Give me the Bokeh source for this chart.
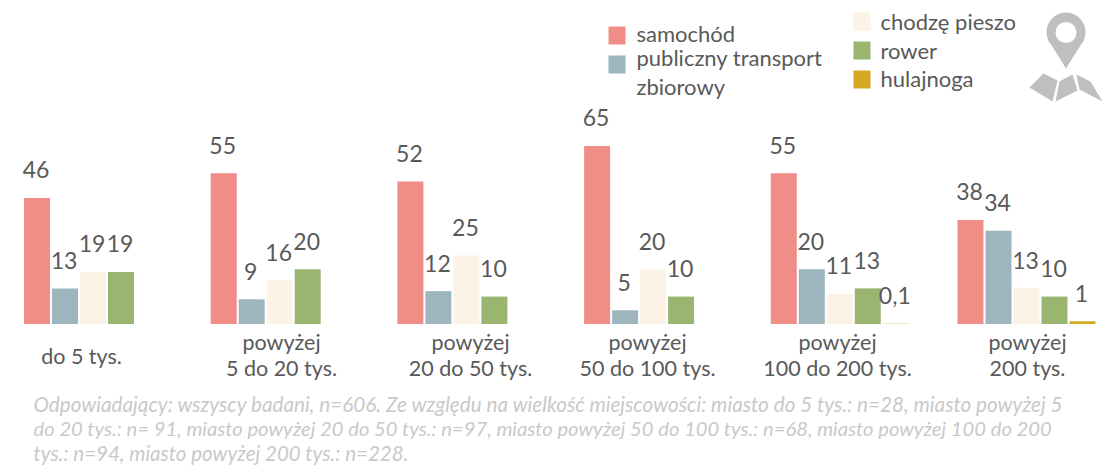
from bokeh.plotting import figure
from bokeh.models import ColumnDataSource, Range1d
from bokeh.core.properties import value
from bokeh.embed import file_html
from bokeh.resources import INLINE

labels_top = ["", "powyżej", "powyżej", "powyżej", "powyżej", "powyżej"]
labels_bottom = ["do 5 tys.", "5 do 20 tys.", "20 do 50 tys.", "50 do 100 tys.", "100 do 200 tys.", "200 tys."]
samochod = [46, 55, 52, 65, 55, 38]
publiczny = [13, 9, 12, 5, 20, 34]
pieszo = [19, 16, 25, 20, 11, 13]
rower = [19, 20, 10, 10, 13, 10]
hulajnoga = [None, None, None, None, 0.1, 1]
series_names = ["samochód", "publiczny transport", "chodzę pieszo", "rower", "hulajnoga"]
colors = ["#F18D87", "#9DB6BD", "#FBF3E5", "#99B56F", "#D6A823"]
footer = [
    "Odpowiadający: wszyscy badani, n=606. Ze względu na wielkość miejscowości: miasto do 5 tys.: n=28, miasto powyżej 5",
    "do 20 tys.: n= 91, miasto powyżej 20 do 50 tys.: n=97, miasto powyżej 50 do 100 tys.: n=68, miasto powyżej 100 do 200",
    "tys.: n=94, miasto powyżej 200 tys.: n=228.",
]

W, H = 1119, 465
PITCH, STEP, BAR = 186.7, 28.0, 26.0
X0, Y0, K = 36.5, 323.5, 2.74   # page px of first bar centre, baseline, px per unit


def dx(px):
    return (px - X0) / PITCH


def dy(py):
    return (Y0 - py) / K


p = figure(width=W, height=H, output_backend="svg", toolbar_location=None,
           x_range=Range1d(dx(0), dx(W)), y_range=Range1d(dy(H), dy(0)),
           x_axis_location=None, y_axis_location=None, min_border=0,
           outline_line_color=None, background_fill_color="white")
p.grid.visible = False

FONT = value("Lato")
TXT = "#595959"
series = [samochod, publiczny, pieszo, rower, hulajnoga]
xs, tops, cols, txt = [], [], [], []
for j, s in enumerate(series):
    for i, v in enumerate(s):
        if v is None:
            continue
        xs.append(i + j * STEP / PITCH)
        tops.append(v)
        cols.append(colors[j])
        txt.append(str(v).replace(".", ","))
src = ColumnDataSource(dict(x=xs, top=tops, color=cols, label=txt))
p.vbar(x="x", top="top", bottom=0, width=BAR / PITCH, fill_color="color", line_color=None, source=src)
p.text(x="x", y="top", text="label", source=src, text_font=FONT, text_font_size="23px",
       text_color=TXT, text_align="center", text_baseline="middle", x_offset=-1, y_offset=-28)

# category labels
cat_px = [81, 281, 470, 647, 837, 1027]
p.text(x=[dx(c) for c in cat_px], y=[dy(341)] * 6, text=labels_top, text_font=FONT, text_font_size="21.5px",
       text_color=TXT, text_align="center", text_baseline="middle")
cat_y = [355, 367, 367, 367, 367, 367]
p.text(x=[dx(c) for c in cat_px], y=[dy(v) for v in cat_y], text=labels_bottom, text_font=FONT,
       text_font_size="21.5px", text_color=TXT, text_align="center", text_baseline="middle")

# legend
sw = [(608, 26), (608, 55), (853, 12), (853, 41), (853, 70)]
p.quad(left=[dx(a) for a, b in sw], right=[dx(a + 17) for a, b in sw],
       top=[dy(b) for a, b in sw], bottom=[dy(b + 18) for a, b in sw],
       fill_color=colors, line_color=None)
leg_x = [636, 636, 880, 880, 880]
leg_y = [33, 57, 21, 50, 78]
p.text(x=[dx(a) for a in leg_x], y=[dy(b) for b in leg_y], text=series_names, text_font=FONT,
       text_font_size="22px", text_color=TXT, text_align="left", text_baseline="middle")
p.text(x=[dx(636)], y=[dy(86)], text=["zbiorowy"], text_font=FONT, text_font_size="22px",
       text_color=TXT, text_align="left", text_baseline="middle")

# footer
foot_src = ColumnDataSource(dict(x=[dx(33)] * 3, y=[dy(403), dy(427.5), dy(452)], t=footer,
                                 s=["20.7px", "20.2px", "20.5px"]))
p.text(x="x", y="y", text="t", source=foot_src, text_font=FONT, text_font_size="s",
       text_font_style="italic", text_color="#C9C9C9", text_align="left", text_baseline="middle")

# map icon
ICON = "#BFBFBF"
p.ellipse(x=[dx(1065.5)], y=[dy(31.5)], width=39 / PITCH, height=39 / K, fill_color=ICON, line_color=None)
pin_x = [1047.5, 1083.5, 1065.5]
pin_y = [39, 39, 68]
p.patch([dx(v) for v in pin_x], [dy(v) for v in pin_y], fill_color=ICON, line_color=None)
p.ellipse(x=[dx(1065.5)], y=[dy(32)], width=21 / PITCH, height=21 / K, fill_color="white", line_color=None)
map_x = [[1029, 1043, 1057, 1052], [1059, 1072, 1077, 1055], [1076, 1090, 1102, 1079]]
map_y = [[87, 73, 80, 101], [81, 74, 90, 101], [74, 81, 101, 89]]
p.patches([[dx(v) for v in a] for a in map_x], [[dy(v) for v in a] for a in map_y],
          fill_color=ICON, line_color=None)

open("out.html", "w").write(file_html(p, INLINE))
